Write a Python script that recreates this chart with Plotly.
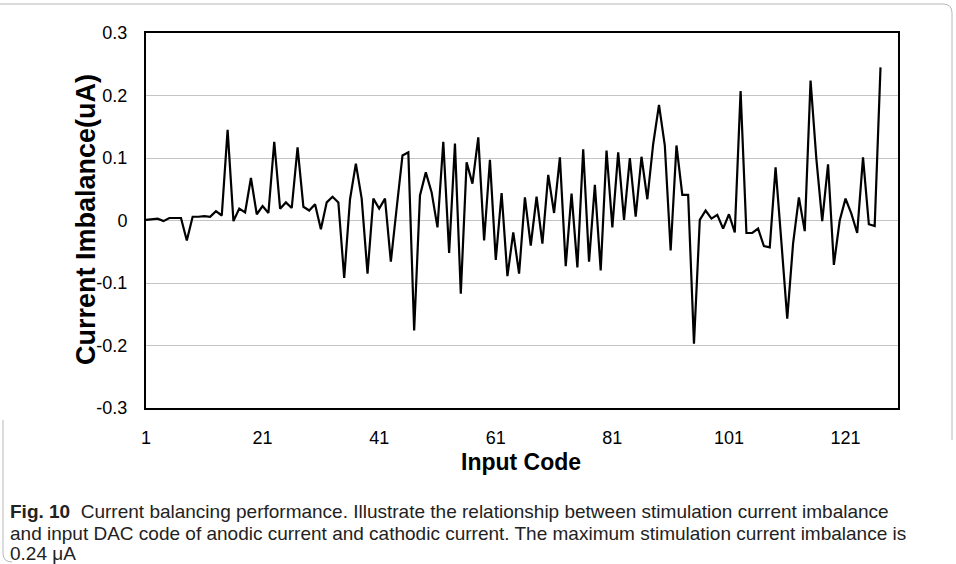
import plotly.graph_objects as go

codes = list(range(1, 128))
imbalance = [
    0.001, 0.002, 0.003, -0.001, 0.004, 0.004, 0.004, -0.032, 0.006, 0.006,
    0.007, 0.006, 0.015, 0.008, 0.145, -0.001, 0.019, 0.013, 0.068, 0.010,
    0.023, 0.012, 0.126, 0.019, 0.029, 0.020, 0.117, 0.022, 0.016, 0.026,
    -0.014, 0.029, 0.038, 0.029, -0.092, 0.034, 0.091, 0.035, -0.085, 0.035,
    0.019, 0.035, -0.066, 0.020, 0.104, 0.109, -0.176, 0.040, 0.077, 0.045,
    -0.011, 0.126, -0.052, 0.123, -0.117, 0.093, 0.059, 0.133, -0.032, 0.097,
    -0.063, 0.044, -0.089, -0.019, -0.085, 0.037, -0.040, 0.038, -0.037, 0.073,
    0.012, 0.101, -0.073, 0.043, -0.075, 0.114, -0.066, 0.057, -0.080, 0.112,
    -0.011, 0.109, 0.001, 0.100, 0.006, 0.102, 0.034, 0.122, 0.185, 0.120,
    -0.048, 0.120, 0.041, 0.041, -0.197, 0.001, 0.016, 0.003, 0.009, -0.013,
    0.010, -0.019, 0.207, -0.020, -0.020, -0.013, -0.041, -0.043, 0.085, -0.035,
    -0.157, -0.037, 0.037, -0.017, 0.224, 0.098, -0.001, 0.090, -0.071, 0.000,
    0.035, 0.011, -0.020, 0.101, -0.006, -0.009, 0.245,
]
x_tick_vals = [1, 21, 41, 61, 81, 101, 121]
y_tick_vals = [0.3, 0.2, 0.1, 0.0, -0.1, -0.2, -0.3]
y_tick_text = ["0.3", "0.2", "0.1", "0", "-0.1", "-0.2", "-0.3"]

x_title = "Input Code"
y_title = "Current Imbalance(uA)"
caption_lines = [
    "<b>Fig. 10</b>  Current balancing performance. Illustrate the relationship between stimulation current imbalance",
    "and input DAC code of anodic current and cathodic current. The maximum stimulation current imbalance is",
    "0.24 μA",
]

W, H = 956, 564
L, R, T, B = 146, 58, 33, 156
PW, PH = W - L - R, H - T - B


def px(xp):
    return (xp - L) / PW


def py(yp):
    return (H - B - yp) / PH


fig = go.Figure()
fig.add_trace(go.Scatter(
    x=codes, y=imbalance, mode="lines",
    line=dict(color="black", width=2.2),
    hoverinfo="x+y", showlegend=False,
))

tick_font = dict(family="Liberation Sans, Arial, sans-serif", size=18, color="black")

fig.update_layout(
    width=W, height=H,
    margin=dict(l=L, r=R, t=T, b=B, pad=0),
    paper_bgcolor="white", plot_bgcolor="white",
    xaxis=dict(
        range=[1, 130], tickvals=x_tick_vals, showgrid=False, zeroline=False,
        showline=True, mirror=True, linecolor="black", linewidth=2,
        ticks="", tickfont=tick_font, ticklabelstandoff=12,
    ),
    yaxis=dict(
        range=[-0.3, 0.3], tickvals=y_tick_vals, ticktext=y_tick_text,
        showgrid=True, gridcolor="#c4c4c4", gridwidth=1, zeroline=False,
        showline=True, mirror=True, linecolor="black", linewidth=2,
        ticks="", tickfont=tick_font, ticklabelstandoff=13,
    ),
)

annotations = [
    dict(text="<b>" + x_title + "</b>", x=px(521), y=py(462), xref="paper", yref="paper",
         showarrow=False, xanchor="center", yanchor="middle",
         font=dict(family="Liberation Sans, Arial, sans-serif", size=23, color="black")),
    dict(text="<b>" + y_title + "</b>", x=px(86), y=py(220), xref="paper", yref="paper",
         showarrow=False, xanchor="center", yanchor="middle", textangle=-90,
         font=dict(family="Liberation Sans, Arial, sans-serif", size=27, color="black")),
]
cap_y = [511, 533, 553]
for line, yy in zip(caption_lines, cap_y):
    annotations.append(dict(
        text=line, x=px(8), y=py(yy), xref="paper", yref="paper",
        showarrow=False, xanchor="left", yanchor="middle", align="left",
        font=dict(family="Liberation Sans, Arial, sans-serif", size=19, color="#222222"),
    ))
fig.update_layout(annotations=annotations)

# figure frame (rounded caption box outline)
top_path = (f"M {px(0)},{py(4)} L {px(943)},{py(4)} Q {px(952)},{py(4)} {px(952)},{py(13)} "
            f"L {px(952)},{py(440)}")
left_path = (f"M {px(3)},{py(420)} L {px(3)},{py(553)} Q {px(3)},{py(562)} {px(12)},{py(562)}")
fig.add_shape(type="path", path=top_path, xref="paper", yref="paper",
              line=dict(color="#b8b8b8", width=1))
fig.add_shape(type="path", path=left_path, xref="paper", yref="paper",
              line=dict(color="#b8b8b8", width=1))

fig.write_html(
    "out.html",
    config={"displayModeBar": False},
    post_script="document.body.style.margin='0';document.body.style.padding='0';",
)
